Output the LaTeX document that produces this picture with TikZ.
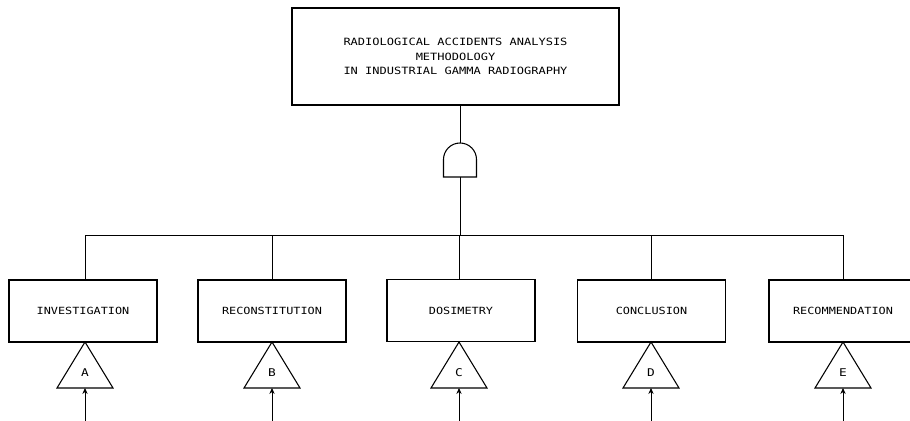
\documentclass[tikz,border=0pt]{standalone}
\usepackage{fontspec}
\newfontfamily\plotfont[FakeStretch=1.2]{DejaVu Sans Mono}
\usetikzlibrary{arrows.meta,calc}
\begin{document}
\begin{tikzpicture}[x=0.75pt,y=-0.75pt,
  box/.style={draw,line width=0.9pt,minimum width=111pt,minimum height=46.5pt,inner sep=0pt,font=\plotfont\fontsize{7.4}{9}\selectfont},
  topbox/.style={draw,line width=0.9pt,minimum width=245.25pt,minimum height=72.75pt,align=center,inner sep=0pt,font=\plotfont\fontsize{7.5}{10.9}\selectfont},
  wire/.style={line width=0.7pt},
  tri/.style={line width=0.8pt,line join=miter},
  letter/.style={font=\plotfont\fontsize{8}{9}\selectfont,inner sep=0pt},
  feed/.style={line width=0.7pt,-{Stealth[length=4.5pt,width=4pt]}}]
\useasboundingbox (0,0) rectangle (910,421);
\clip (0,0) rectangle (910,421);
\fill[white] (0,0) rectangle (910,421);

\node[topbox] (top) at (455.5,56.5) {RADIOLOGICAL ACCIDENTS ANALYSIS\\METHODOLOGY\\IN INDUSTRIAL GAMMA RADIOGRAPHY};

% AND gate
\coordinate (gtop) at (460,143);
\coordinate (gbot) at (460,177);
\draw[tri] (gbot) ++(-16.5,0) -- ++(0,-17.5) arc[start angle=180,end angle=360,radius=16.5] -- ++(0,17.5) -- cycle;
\draw[wire] (top.south -| gtop) -- (gtop);

\coordinate (busl) at (85,235);
\coordinate (busr) at (843,235);
\draw[wire] (gbot) -- (gbot |- busl);
\draw[wire] (busl) -- (busr);

\node[box] (inv) at (83,311) {INVESTIGATION};
\node[box] (rec) at (272,311) {RECONSTITUTION};
\node[box] (dos) at (461,310.5) {DOSIMETRY};
\node[box] (con) at (651.5,311) {CONCLUSION};
\node[box] (rcm) at (843,311) {RECOMMENDATION};

\foreach \b/\x/\l in {inv/85/A,rec/272/B,dos/459/C,con/651/D,rcm/843/E}{
  \coordinate (\b-t) at (\x,235);
  \draw[wire] (\b-t) -- (\b-t |- \b.north);
  \coordinate (\b-apex) at (\x,342);
  \draw[tri] (\b-apex) -- ++(-28,46) -- ++(56,0) -- cycle;
  \node[letter] (\b-l) at (\x,373) {\l};
  \coordinate (\b-base) at (\x,388);
  \coordinate (\b-in) at (\x,421);
  \draw[feed] (\b-in) -- (\b-base);
}
\end{tikzpicture}
\end{document}
